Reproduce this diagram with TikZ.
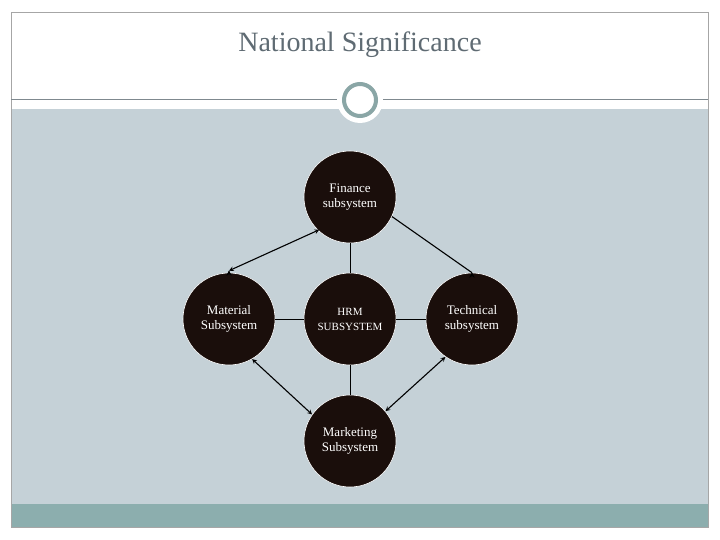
\documentclass[tikz,border=0pt]{standalone}
\usepackage{fontspec}
\setmainfont{Liberation Serif}
\begin{document}
\begin{tikzpicture}[x=1pt,y=-1pt,
  sub/.style={circle,fill=nodedark,draw=white,line width=0.6pt,minimum size=92pt,inner sep=0pt,text=white,font=\fontsize{13}{15}\selectfont,align=center},
  biarrow/.style={<->,>=stealth,line width=1.1pt,black},
  link/.style={line width=0.6pt,black}]
\definecolor{nodedark}{HTML}{1A0E0B}
\definecolor{slidebg}{HTML}{C5D1D7}
\definecolor{strip}{HTML}{8CAEAE}
\definecolor{ring}{HTML}{8AA6A6}
\definecolor{titlec}{HTML}{5F6B73}
\useasboundingbox (0,0) rectangle (720,540);
\fill[white] (0,0) rectangle (720,540);
\fill[slidebg] (11,109) rectangle (708,504);
\fill[strip] (11,504) rectangle (708,527);
\draw[gray!70,line width=0.6pt] (11,12) rectangle (708,527);
\draw[titlec!80,line width=1pt] (11,100) -- (708,100);
\node[circle,fill=white,minimum size=46pt,inner sep=0pt] (ringbg) at (360,100) {};
\node[circle,draw=ring,line width=4pt,fill=white,minimum size=32pt,inner sep=0pt] (ringc) at (360,100) {};
\node[text=titlec,font=\fontsize{28}{32}\selectfont] (title) at (360,45) {National Significance};
\node[sub] (fin) at (350,197) {Finance\\subsystem};
\node[sub] (mat) at (229,319) {Material\\Subsystem};
\node[sub,font=\fontsize{11}{15}\selectfont] (hrm) at (350,319) {HRM\\SUBSYSTEM};
\node[sub] (tec) at (472,319) {Technical\\subsystem};
\node[sub] (mkt) at (350,441) {Marketing\\Subsystem};
\draw[link] (hrm) -- (fin);
\draw[link] (hrm) -- (mat);
\draw[link] (hrm) -- (tec);
\draw[link] (hrm) -- (mkt);
\draw[biarrow] (fin.{225}) ++(2,0) coordinate (a1) (mat.north) ++(0,-2) coordinate (a2);
\draw[biarrow] (a1) -- (a2);
\draw[biarrow] (fin.{-25}) -- (tec.north) ++(0,0);
\draw[biarrow] (mat.{-60}) -- (mkt.{145});
\draw[biarrow] (tec.{235}) -- (mkt.{40});
\end{tikzpicture}
\end{document}
